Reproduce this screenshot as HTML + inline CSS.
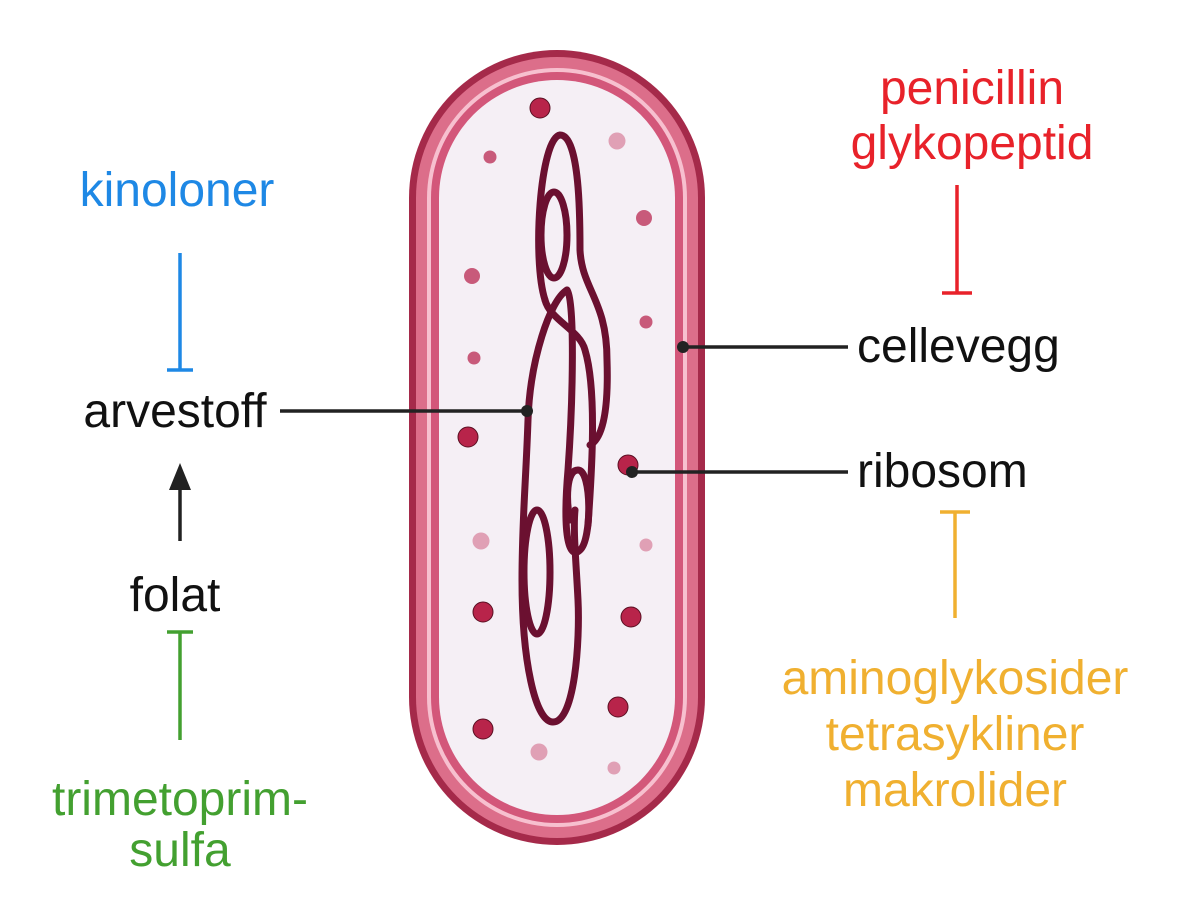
<!DOCTYPE html>
<html><head><meta charset="utf-8"><style>
html,body{margin:0;padding:0;background:#fff}
svg text{font-family:"Liberation Sans",Arial,sans-serif;font-size:48px}
</style></head><body>
<svg width="1200" height="906" viewBox="0 0 1200 906" xmlns="http://www.w3.org/2000/svg">
<rect x="409" y="50" width="296" height="795" rx="148" fill="#a52a4a"/>
<rect x="416" y="57" width="282" height="781" rx="141" fill="#dc6e8a"/>
<rect x="427" y="68" width="260" height="759" rx="130" fill="#f7c0cf"/>
<rect x="431" y="72" width="252" height="751" rx="126" fill="#d3577a"/>
<rect x="439" y="80" width="236" height="735" rx="118" fill="#f5eff5"/>
<g fill="none" stroke="#6b1030" stroke-width="7" stroke-linecap="round">
<ellipse cx="554" cy="235" rx="13" ry="43"/>
<path d="M545,300 C532,260 540,138 560,135 C580,135 580,220 580,250 C582,290 607,300 607,360 C609,420 600,440 590,445"/>
<path d="M545,300 C550,320 580,330 585,350 C597,390 592,470 588,525"/>
<path d="M567,290 C550,300 530,360 528,420 C526,480 522,520 522,580 C522,660 535,722 553,722 C575,722 580,640 578,600 C576,560 573,530 575,510"/>
<path d="M567,290 C575,300 573,400 568,470 C562,540 570,560 580,550 C592,540 592,470 578,470 C566,470 566,500 570,520"/>
<ellipse cx="537" cy="572" rx="13" ry="62"/>
</g>
<g fill="#b8244a" stroke="#5a0f22" stroke-width="1">
<circle cx="540" cy="108" r="10"/><circle cx="468" cy="437" r="10"/><circle cx="483" cy="612" r="10"/>
<circle cx="631" cy="617" r="10"/><circle cx="618" cy="707" r="10"/><circle cx="483" cy="729" r="10"/><circle cx="628" cy="465" r="10"/>
</g>
<g fill="#c85a7a">
<circle cx="490" cy="157" r="6.5"/><circle cx="644" cy="218" r="8"/><circle cx="472" cy="276" r="8"/>
<circle cx="646" cy="322" r="6.5"/><circle cx="474" cy="358" r="6.5"/>
</g>
<g fill="#e0a0b5">
<circle cx="617" cy="141" r="8.5"/><circle cx="481" cy="541" r="8.5"/><circle cx="646" cy="545" r="6.5"/>
<circle cx="539" cy="752" r="8.5"/><circle cx="614" cy="768" r="6.5"/>
</g>
<g stroke="#222" stroke-width="3.5">
<line x1="280" y1="411" x2="527" y2="411"/>
<line x1="683" y1="347" x2="848" y2="347"/>
<line x1="632" y1="472" x2="848" y2="472"/>
<line x1="180" y1="488" x2="180" y2="541"/>
</g>
<g fill="#222"><circle cx="527" cy="411" r="6"/><circle cx="683" cy="347" r="6"/><circle cx="632" cy="472" r="6"/>
<polygon points="180,463 169,490 191,490"/></g>
<g stroke-width="3.5">
<path d="M180,253 V370 M167,370 H193" stroke="#1e88e5"/>
<path d="M180,740 V632 M167,632 H193" stroke="#43a030"/>
<path d="M957,185 V293 M942,293 H972" stroke="#e8222a"/>
<path d="M955,618 V512 M940,512 H970" stroke="#f0b030"/>
</g>
<g text-anchor="middle">
<text x="177" y="206" fill="#1e88e5">kinoloner</text>
<text x="175" y="427" fill="#111">arvestoff</text>
<text x="175" y="611" fill="#111">folat</text>
<text x="180" y="815" fill="#43a030">trimetoprim-</text>
<text x="180" y="866" fill="#43a030">sulfa</text>
<text x="972" y="104" fill="#e8222a">penicillin</text>
<text x="972" y="159" fill="#e8222a">glykopeptid</text>
<text x="955" y="694" fill="#f0b030">aminoglykosider</text>
<text x="955" y="750" fill="#f0b030">tetrasykliner</text>
<text x="955" y="806" fill="#f0b030">makrolider</text>
</g>
<text x="857" y="362" fill="#111">cellevegg</text>
<text x="857" y="487" fill="#111">ribosom</text>
</svg>
</body></html>
